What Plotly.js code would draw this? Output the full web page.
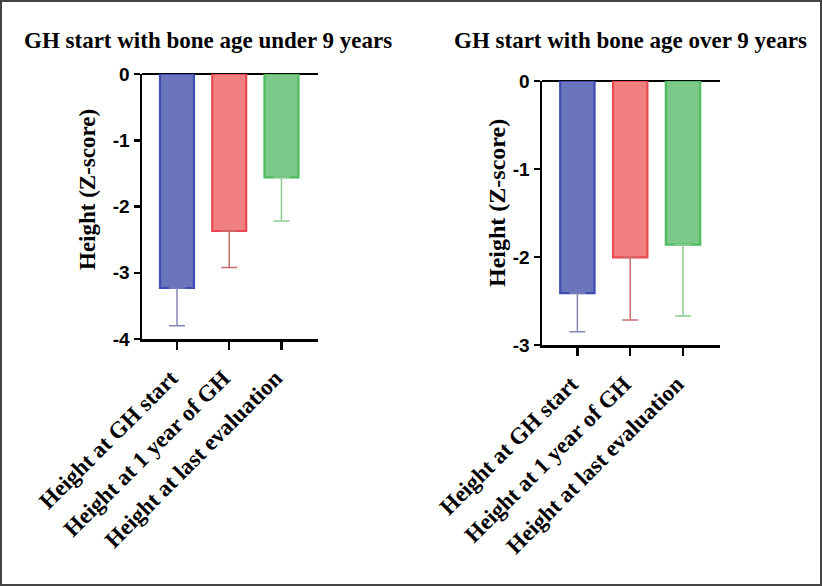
<!DOCTYPE html>
<html><head><meta charset="utf-8">
<script src="https://cdn.plot.ly/plotly-3.0.1.min.js"></script>
<style>
html,body{margin:0;padding:0;background:#fff;}
#wrap{position:relative;width:822px;height:586px;}
#chart{width:822px;height:586px;}
#frame{position:absolute;left:0;top:0;width:822px;height:586px;box-sizing:border-box;border:2px solid #444;pointer-events:none;}
</style></head>
<body>
<div id="wrap"><div id="chart"></div><div id="frame"></div></div>
<script>
const categories = ["Height at GH start", "Height at 1 year of GH", "Height at last evaluation"];
const underValues = [-3.23, -2.37, -1.56];
const underErrors = [0.57, 0.55, 0.66];
const overValues = [-2.41, -2.005, -1.86];
const overErrors = [0.44, 0.71, 0.81];
const yTicksUnder = [0, -1, -2, -3, -4];
const yTicksOver = [0, -1, -2, -3];
const titles = ["GH start with bone age under 9 years", "GH start with bone age over 9 years"];
const yTitle = "Height (Z-score)";

const fills = ["#6b75bd", "#f28080", "#7cc98a"];
const borders = ["#3d4db3", "#e84a50", "#4dbb5e"];
const errColors = ["#8486b8", "#c96d70", "#8dcc92"];

const traces = [];
function addSet(vals, errs, xa, ya) {
  for (let i = 0; i < categories.length; i++) {
    traces.push({
      type: "bar", x: [categories[i]], y: [vals[i]], xaxis: xa, yaxis: ya,
      width: 0.65, showlegend: false, hoverinfo: "skip",
      marker: {color: fills[i], line: {color: borders[i], width: 2.2}},
      error_y: {type: "data", symmetric: false, array: [0], arrayminus: [errs[i]],
                color: errColors[i], thickness: 1.5, width: 8}
    });
  }
}
addSet(underValues, underErrors, "x", "y");
addSet(overValues, overErrors, "x2", "y2");

const W = 822, H = 586;
const serif = "Liberation Serif, Times New Roman, serif";
const sans = "Liberation Sans, Arial, sans-serif";

function xAxis(d, anchor) {
  return {domain: d, anchor: anchor, type: "category", range: [-0.67, 2.7],
    showline: true, linecolor: "#000", linewidth: 2.5, ticks: "outside", ticklen: 8, tickwidth: 2.5,
    tickcolor: "#000", tickangle: -45, ticklabelstandoff: 6, ticklabelshift: -6,
    showgrid: false, zeroline: false, automargin: false,
    tickfont: {family: serif, size: 23, color: "#000", weight: "bold"}};
}
function yAxis(d, anchor, rng, tv) {
  return {domain: d, anchor: anchor, range: rng, tickvals: tv, ticktext: tv.map(String),
    showline: true, linecolor: "#000", linewidth: 2.5, ticks: "outside", ticklen: 6, tickwidth: 2.5,
    tickcolor: "#000", showgrid: false, zeroline: true, zerolinecolor: "#000", zerolinewidth: 2.5,
    automargin: false,
    tickfont: {family: sans, size: 19, color: "#000", weight: "bold"}};
}

function ann(text, x, y, size, angle) {
  return {text: text, xref: "paper", yref: "paper", x: x/W, y: 1-y/H, xanchor: "center", yanchor: "middle",
    showarrow: false, textangle: angle, font: {family: serif, size: size, color: "#000", weight: "bold"}};
}

const layout = {
  width: W, height: H, margin: {l: 0, r: 0, t: 0, b: 0},
  paper_bgcolor: "#fff", plot_bgcolor: "rgba(0,0,0,0)", barmode: "overlay",
  xaxis: xAxis([142/W, 318/W], "y"),
  yaxis: yAxis([1-339/H, 1-74/H], "x", [-4, 0], yTicksUnder),
  xaxis2: xAxis([542/W, 720/W], "y2"),
  yaxis2: yAxis([1-345/H, 1-81/H], "x2", [-3, 0], yTicksOver),
  annotations: [
    ann(titles[0], 208, 40, 23, 0),
    ann(titles[1], 630, 40, 23, 0),
    ann(yTitle, 88, 190, 23, -90),
    ann(yTitle, 497, 203, 24, -90)
  ]
};
Plotly.newPlot("chart", traces, layout, {staticPlot: true, displayModeBar: false});
</script>
</body></html>
